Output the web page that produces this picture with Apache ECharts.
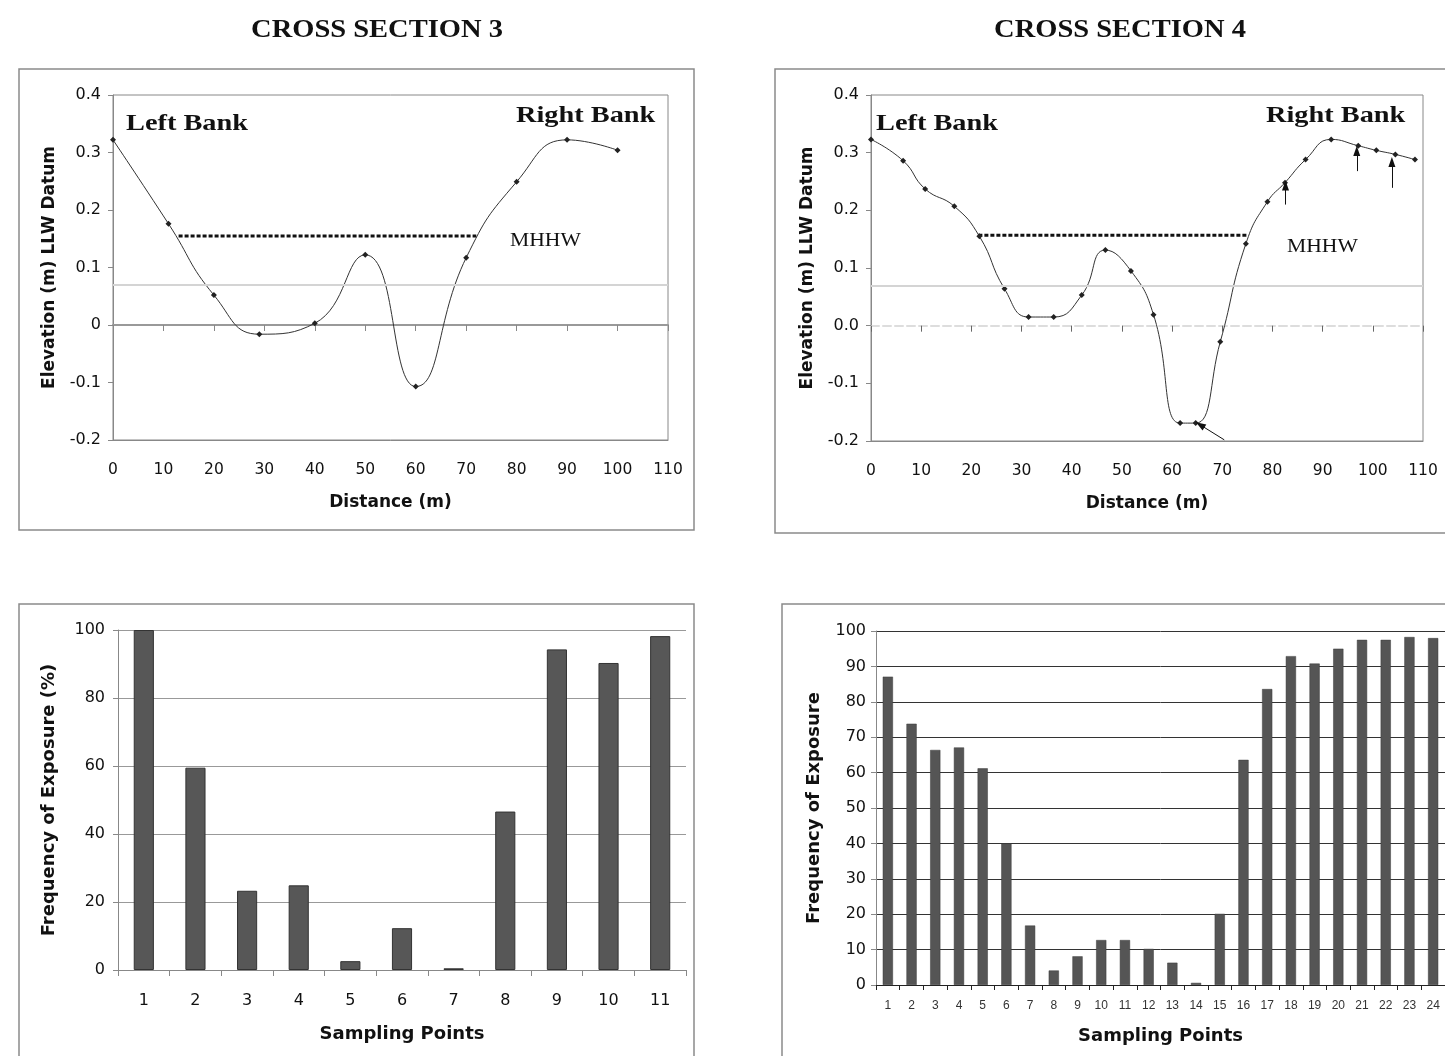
<!DOCTYPE html>
<html><head><meta charset="utf-8">
<script src="https://cdn.jsdelivr.net/npm/echarts@6/dist/echarts.min.js"></script>
<style>html,body{margin:0;padding:0;background:#fff}#c{width:1445px;height:1056px}</style>
</head><body><div id="c"></div>
<script>
// ---- Cross section 3 profile ----
const cs3Distance = [0, 11, 20, 29, 40, 50, 60, 70, 80, 90, 100];
const cs3Elevation = [0.322, 0.176, 0.052, -0.016, 0.003, 0.122, -0.107, 0.117, 0.249, 0.322, 0.304];
const cs3Mhhw = [[13, 0.155], [72, 0.155]];
// ---- Cross section 4 profile ----
const cs4Distance = [0, 6.4, 10.8, 16.6, 21.6, 26.6, 31.4, 36.4, 42.0, 46.7, 51.8, 56.3, 61.6, 64.7, 69.6, 74.7, 79.0, 82.5, 86.6, 91.7, 97.1, 100.7, 104.5, 108.4];
const cs4Elevation = [0.323, 0.286, 0.237, 0.207, 0.155, 0.064, 0.015, 0.015, 0.053, 0.131, 0.095, 0.019, -0.169, -0.169, -0.028, 0.142, 0.215, 0.248, 0.288, 0.323, 0.312, 0.304, 0.297, 0.288];
const cs4Mhhw = [[21.4, 0.157], [75, 0.157]];
const cs4Arrows = [[[82.6, 0.210], [82.6, 0.243]], [[96.8, 0.268], [96.8, 0.303]], [[103.8, 0.239], [103.8, 0.284]], [[70.4, -0.198], [65.6, -0.172]]];
const bandTop = 0.068;
// ---- Frequency of exposure ----
const cs3Points = ['1','2','3','4','5','6','7','8','9','10','11'];
const cs3Exposure = [100, 59.5, 23.3, 24.9, 2.6, 12.3, 0.5, 46.6, 94.3, 90.3, 98.2];
const cs4Points = ['1','2','3','4','5','6','7','8','9','10','11','12','13','14','15','16','17','18','19','20','21','22','23','24'];
const cs4Exposure = [87.1, 73.8, 66.4, 67.1, 61.2, 40.0, 16.8, 4.1, 8.1, 12.7, 12.7, 10.2, 6.3, 0.6, 20.1, 63.6, 83.6, 92.9, 90.8, 95.0, 97.5, 97.5, 98.3, 98.0];
const elevTicksMin = -0.2, elevTicksMax = 0.4, elevStep = 0.1;

const SANS = 'DejaVu Sans, Verdana, sans-serif';
const NARROW = 'Liberation Sans, Arial, sans-serif';
const SERIF = 'Liberation Serif, Times New Roman, serif';
const zip = (a, b) => a.map((v, i) => [v, b[i]]);
const fmt3 = v => Math.abs(v) < 1e-9 ? '0' : v.toFixed(1);
const fmt4 = v => (Math.abs(v) < 1e-9 ? 0 : v).toFixed(1);
const nameStyle = (s) => ({ fontFamily: SANS, fontWeight: 'bold', fontSize: s, color: '#111' });

function distAxis(grid) {
  return {
    gridIndex: grid, type: 'value', min: 0, max: 110, interval: 10, position: 'bottom',
    axisLine: { onZero: false, lineStyle: { color: '#888', width: 1 } },
    axisTick: { show: false }, splitLine: { show: false },
    axisLabel: { color: '#111', fontFamily: SANS, fontSize: 15.5, margin: 22 },
    name: 'Distance (m)', nameLocation: 'middle', nameGap: 54, nameTextStyle: nameStyle(17)
  };
}
function zeroAxis(grid, color, type, tickColor) {
  return {
    gridIndex: grid, type: 'value', min: 0, max: 110, interval: 10, position: 'top',
    axisLine: { show: true, onZero: true, lineStyle: { color: color, width: 2, type: type } },
    axisTick: { show: true, inside: true, length: 6, lineStyle: { color: tickColor } },
    axisLabel: { show: false }, splitLine: { show: false }
  };
}
function elevAxis(grid, f) {
  return {
    gridIndex: grid, type: 'value', min: elevTicksMin, max: elevTicksMax, interval: elevStep,
    axisLine: { show: true, lineStyle: { color: '#888' } },
    axisTick: { show: true, length: 5, lineStyle: { color: '#888' } },
    splitLine: { show: false },
    axisLabel: { color: '#111', fontFamily: SANS, fontSize: 16, margin: 12, formatter: f },
    name: 'Elevation (m) LLW Datum', nameLocation: 'middle', nameGap: 55, nameTextStyle: nameStyle(17)
  };
}

const chart = echarts.init(document.getElementById('c'));
const txt = (x, y, s, size, weight, align, sx) => ({
  type: 'text', x: x, y: y, scaleX: sx || 1, silent: true,
  style: { text: s, font: (weight || 'normal') + ' ' + size + 'px ' + SERIF, fill: '#111', textAlign: align || 'left', textVerticalAlign: 'middle' }
});
const box = (x, y, w, h) => ({ type: 'rect', shape: { x: x, y: y, width: w, height: h }, silent: true, z: -1, style: { fill: 'none', stroke: '#8a8a8a', lineWidth: 1.5 } });

chart.setOption({
  animation: false,
  backgroundColor: '#fff',
  grid: [
    { left: 113, top: 95, width: 555, height: 345, show: true, borderColor: '#888', borderWidth: 1, backgroundColor: 'transparent' },
    { left: 871, top: 95, width: 552, height: 346, show: true, borderColor: '#888', borderWidth: 1, backgroundColor: 'transparent' },
    { left: 118, top: 630, width: 568, height: 340 },
    { left: 876, top: 631, right: 0, height: 354 }
  ],
  xAxis: [
    distAxis(0), distAxis(1),
    {
      gridIndex: 2, type: 'category', data: cs3Points,
      axisLine: { lineStyle: { color: '#888' } },
      axisTick: { show: true, length: 6, lineStyle: { color: '#888' } },
      axisLabel: { color: '#111', fontFamily: SANS, fontSize: 16, margin: 23 },
      name: 'Sampling Points', nameLocation: 'middle', nameGap: 55, nameTextStyle: nameStyle(18)
    },
    {
      gridIndex: 3, type: 'category', data: cs4Points,
      axisLine: { lineStyle: { color: '#222' } },
      axisTick: { show: true, length: 5, lineStyle: { color: '#222' } },
      axisLabel: { color: '#333', fontFamily: NARROW, fontSize: 12, margin: 15, interval: 0 },
      name: 'Sampling Points', nameLocation: 'middle', nameGap: 42, nameTextStyle: nameStyle(18)
    },
    zeroAxis(0, '#999', 'solid', '#888'),
    zeroAxis(1, '#ddd', 'dashed', '#666')
  ],
  yAxis: [
    elevAxis(0, fmt3), elevAxis(1, fmt4),
    {
      gridIndex: 2, type: 'value', min: 0, max: 100, interval: 20,
      axisLine: { show: true, lineStyle: { color: '#888' } },
      axisTick: { show: true, length: 5, lineStyle: { color: '#888' } },
      splitLine: { lineStyle: { color: '#999', width: 1 } },
      axisLabel: { color: '#111', fontFamily: SANS, fontSize: 16, margin: 13 },
      name: 'Frequency of Exposure (%)', nameLocation: 'middle', nameGap: 60, nameTextStyle: nameStyle(18)
    },
    {
      gridIndex: 3, type: 'value', min: 0, max: 100, interval: 10,
      axisLine: { show: true, lineStyle: { color: '#888' } },
      axisTick: { show: true, length: 5, lineStyle: { color: '#888' } },
      splitLine: { lineStyle: { color: '#333', width: 1 } },
      axisLabel: { color: '#111', fontFamily: SANS, fontSize: 16, margin: 10 },
      name: 'Frequency of Exposure', nameLocation: 'middle', nameGap: 53, nameTextStyle: nameStyle(18)
    }
  ],
  series: [
    {
      type: 'line', xAxisIndex: 0, yAxisIndex: 0, data: zip(cs3Distance, cs3Elevation), smooth: 0.5,
      symbol: 'diamond', symbolSize: 6, lineStyle: { color: '#333', width: 1 }, itemStyle: { color: '#222' },
      markLine: { silent: true, symbol: 'none', label: { show: false }, lineStyle: { color: '#d4d4d4', width: 2, type: 'solid' }, data: [{ yAxis: bandTop }] }
    },
    {
      type: 'line', xAxisIndex: 0, yAxisIndex: 0, data: cs3Mhhw, symbol: 'none',
      lineStyle: { color: '#111', width: 3, type: [4, 2] }
    },
    {
      type: 'line', xAxisIndex: 1, yAxisIndex: 1, data: zip(cs4Distance, cs4Elevation), smooth: 0.5,
      symbol: 'diamond', symbolSize: 6, lineStyle: { color: '#333', width: 1 }, itemStyle: { color: '#222' },
      markLine: { silent: true, symbol: 'none', label: { show: false }, lineStyle: { color: '#d4d4d4', width: 2, type: 'solid' }, data: [{ yAxis: bandTop }] }
    },
    {
      type: 'line', xAxisIndex: 1, yAxisIndex: 1, data: cs4Mhhw, symbol: 'none',
      lineStyle: { color: '#111', width: 3, type: [4, 2] },
      markLine: {
        silent: true, label: { show: false }, symbol: ['none', 'triangle'], symbolSize: [7, 10],
        lineStyle: { color: '#111', width: 1, type: 'solid' },
        data: cs4Arrows.map(a => [{ coord: a[0] }, { coord: a[1] }])
      }
    },
    {
      type: 'bar', xAxisIndex: 2, yAxisIndex: 2, data: cs3Exposure, barWidth: '39%',
      itemStyle: { color: '#575757', borderColor: '#333', borderWidth: 1 }
    },
    {
      type: 'bar', xAxisIndex: 3, yAxisIndex: 3, data: cs4Exposure, barWidth: '43%',
      itemStyle: { color: '#555', borderColor: '#3a3a3a', borderWidth: 0.5 }
    }
  ],
  graphic: [
    box(19, 69, 675, 461), box(775, 69, 690, 464), box(19, 604, 675, 470), box(782, 604, 690, 470),
    txt(377, 31, 'CROSS SECTION 3', 25, 'bold', 'center', 1.14),
    txt(1120, 31, 'CROSS SECTION 4', 25, 'bold', 'center', 1.14),
    txt(126, 124, 'Left Bank', 24, 'bold', 'left', 1.18),
    txt(516, 116, 'Right Bank', 24, 'bold', 'left', 1.18),
    txt(510, 241, 'MHHW', 18, 'normal', 'left', 1.2),
    txt(876, 124, 'Left Bank', 24, 'bold', 'left', 1.18),
    txt(1266, 116, 'Right Bank', 24, 'bold', 'left', 1.18),
    txt(1287, 247, 'MHHW', 18, 'normal', 'left', 1.2)
  ]
});
</script></body></html>
